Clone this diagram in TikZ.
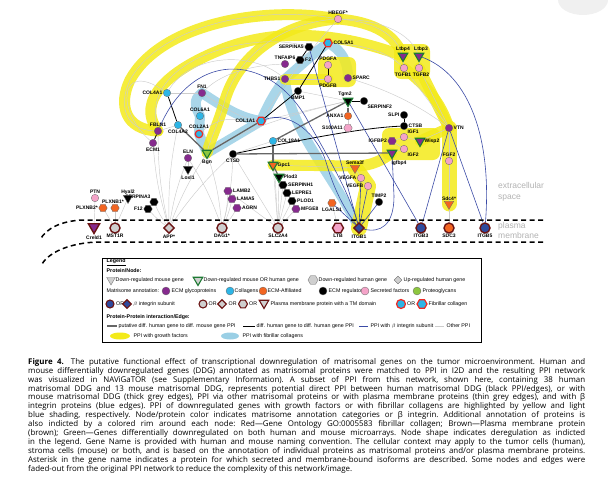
\documentclass[tikz,border=0pt]{standalone}
\usepackage{fontspec}
\setmainfont{Liberation Sans}
\newfontfamily\capfont{Open Sans}
\usetikzlibrary{shapes.geometric}

\definecolor{glycol}{HTML}{862A8E}
\definecolor{collag}{HTML}{2DB5E6}
\definecolor{affil}{HTML}{F26522}
\definecolor{secret}{HTML}{F4A3C8}
\definecolor{protgl}{HTML}{8DC63F}
\definecolor{integ}{HTML}{2E4A9E}
\definecolor{membg}{HTML}{CFCFCF}
\definecolor{rimgreen}{HTML}{1E7A34}
\definecolor{rimbrown}{HTML}{6A1414}
\definecolor{rimred}{HTML}{EE2A24}
\definecolor{edgeblue}{HTML}{3B4BA6}
\definecolor{gfyellow}{HTML}{F3EA1A}
\definecolor{fcblue}{HTML}{9ACFE5}

\pgfdeclarelayer{bands}
\pgfdeclarelayer{edges}
\pgfsetlayers{bands,edges,main}

\begin{document}
\begin{tikzpicture}[x=1pt, y=-1pt,
        lbl/.style={inner sep=0.6pt, font=\fontsize{5}{5.5}\selectfont\bfseries},
        circ/.style={circle, draw=black!60, line width=0.3pt, minimum size=7.5pt, inner sep=0pt},
        hexa/.style={regular polygon, regular polygon sides=6, draw=black!60, line width=0.3pt, minimum size=8.5pt, inner sep=0pt},
        tri/.style={regular polygon, regular polygon sides=3, shape border rotate=180, draw=black!60, line width=0.3pt, minimum size=11pt, inner sep=0pt},
        dia/.style={diamond, draw=black!60, line width=0.3pt, minimum size=9pt, inner sep=0pt},
        glyc/.style={fill=glycol},
        coll/.style={fill=collag},
        affl/.style={fill=affil},
        regl/.style={fill=black},
        secr/.style={fill=secret},
        prot/.style={fill=protgl},
        grrim/.style={draw=rimgreen, line width=1.1pt},
        rdrim/.style={draw=rimred, line width=1.2pt},
        mem/.style={draw=rimbrown, line width=1.4pt, minimum size=10pt},
        lgmem/.style={draw=rimbrown, line width=1.1pt, minimum size=8pt},
        oppi/.style={draw=black!20, line width=0.45pt},
        mppi/.style={draw=black!60, line width=1.3pt},
        hppi/.style={draw=black, line width=0.8pt},
        bppi/.style={draw=edgeblue, line width=0.6pt},
        gfband/.style={draw=gfyellow, line width=11pt, line cap=round, line join=round, opacity=0.85},
        fcband/.style={draw=fcblue, line width=10pt, line cap=round, line join=round, opacity=0.85},
        memline/.style={line width=1.5pt, dash pattern=on 5pt off 3.5pt},
        lgtxt/.style={anchor=west, inner sep=0.5pt, font=\fontsize{5.3}{6}\selectfont},
        lghead/.style={anchor=west, inner sep=0.5pt, font=\fontsize{5.3}{6}\selectfont\bfseries}
    ]
    \useasboundingbox (0,0) rectangle (610,479);
    \fill[black!6] (583,0) ellipse (25 and 15);

    % Membrane
    \draw[memline] (543,220) -- (82,220) .. controls (62,221) and (46,228) .. (40,240);
    \draw[memline] (543,242) -- (97,242) .. controls (72,243) and (50,251) .. (42,264);
    \node[anchor=west, text=black!30, align=left, inner sep=0pt, font=\fontsize{8.5}{11.5}\selectfont] (ecspace) at (498,192) {extracellular\\space};
    \node[anchor=west, text=black!30, align=left, inner sep=0pt, font=\fontsize{8.5}{10}\selectfont] (pmspace) at (498,230) {plasma\\membrane};

    % Upper network
    \node[circ, secr, label={[lbl]above:HBEGF*}] (hbegf) at (338,19) {};
    \node[hexa, regl, label={[lbl]left:SERPINA5}] (serpina5) at (309,47) {};
    \node[circ, glyc, label={[lbl]above:TNFAIP6}] (tnfaip6) at (285,64) {};
    \node[hexa, regl, label={[lbl]right:F2}] (f2) at (300,60) {};
    \node[circ, glyc, label={[lbl]left:THBS1}] (thbs1) at (285,79) {};
    \node[circ, regl, label={[lbl]below:BMP1}] (bmp1) at (298,91) {};
    \node[hexa, coll, rdrim, label={[lbl]right:COL5A1}] (col5a1) at (328,43) {};
    \node[circ, secr, label={[lbl]above:PDGFA}] (pdgfa) at (328,65) {};
    \node[circ, secr, label={[lbl]below:PDGFB}] (pdgfb) at (328,79) {};
    \node[circ, glyc, label={[lbl]right:SPARC}] (sparc) at (348,78) {};
    \node[tri, regl, grrim, label={[lbl,xshift=-3pt]above:Tgm2}] (tgm2) at (348,101) {};
    \node[circ, regl, label={[lbl]below right:SERPINF2}] (serpinf2) at (364,101) {};
    \node[circ, affl, label={[lbl]left:ANXA1}] (anxa1) at (348,116) {};
    \node[hexa, secr, label={[lbl]left:S100A11}] (s100a11) at (348,128) {};
    \node[circ, regl, label={[lbl]left:SLPI}] (slpi) at (404,115) {};
    \node[circ, regl, label={[lbl]right:CTSB}] (ctsb) at (404,126) {};
    \node[circ, secr, label={[lbl]above right:IGF1}] (igf1) at (404,137) {};
    \node[hexa, glyc, label={[lbl]left:IGFBP2}] (igfbp2) at (392,141) {};
    \node[tri, glyc, grrim, label={[lbl]right:Wisp2}] (wisp2) at (420,141) {};
    \node[circ, secr, label={[lbl]below right:IGF2}] (igf2) at (404,149) {};
    \node[tri, glyc, grrim, label={[lbl,xshift=7pt]below:Igfbp4}] (igfbp4) at (392,153) {};
    \node[tri, glyc, grrim, label={[lbl]above:Ltbp4}] (ltbp4) at (403,56) {};
    \node[tri, glyc, grrim, label={[lbl,xshift=2pt]above:Ltbp3}] (ltbp3) at (419,56) {};
    \node[circ, secr, label={[lbl,xshift=-1pt]below:TGFB1}] (tgfb1) at (404,68) {};
    \node[circ, secr, label={[lbl,xshift=2pt]below:TGFB2}] (tgfb2) at (419,68) {};
    \node[circ, glyc, label={[lbl]right:VTN}] (vtn) at (449,128) {};
    \node[circ, secr, label={[lbl]above:FGF2}] (fgf2) at (449,161) {};
    \node[tri, affl, label={[lbl]above:Sdc4*}] (sdc4) at (449,204) {};

    % Left network
    \node[circ, coll, label={[lbl]left:COL4A1}] (col4a1) at (167,93) {};
    \node[circ, glyc, label={[lbl]above:FN1}] (fn1) at (202,93) {};
    \node[circ, coll, label={[lbl]above:COL6A1}] (col6a1) at (200,116) {};
    \node[circ, coll, rdrim, label={[lbl]above:COL2A1}] (col2a1) at (199,134) {};
    \node[circ, glyc, label={[lbl]above:FBLN1}] (fbln1) at (158,131) {};
    \node[circ, glyc, label={[lbl]below:ECM1}] (ecm1) at (153,143) {};
    \node[circ, coll, label={[lbl]below:COL4A2}] (col4a2) at (178,125) {};
    \node[hexa, coll, rdrim, label={[lbl]left:COL1A1}] (col1a1) at (261,121) {};
    \node[circ, glyc, label={[lbl]above:ELN}] (eln) at (188,158) {};
    \node[tri, regl, label={[lbl]below:Loxl1}] (loxl1) at (188,169) {};
    \node[tri, prot, grrim, label={[lbl]below:Bgn}] (bgn) at (207,153) {};
    \node[circ, regl, label={[lbl]below:CTSD}] (ctsd) at (233,154) {};
    \node[circ, coll, label={[lbl]right:COL18A1}] (col18a1) at (273,141) {};
    \node[tri, affl, grrim, label={[lbl]right:Gpc1}] (gpc1) at (273,165) {};
    \node[tri, regl, grrim, label={[lbl]right:Plod3}] (plod3) at (279,177) {};
    \node[hexa, regl, label={[lbl]right:SERPINH1}] (serpinh1) at (283,185) {};
    \node[hexa, regl, label={[lbl]right:LEPRE1}] (lepre1) at (287,193) {};
    \node[hexa, regl, label={[lbl]right:PLOD1}] (plod1) at (292,201) {};
    \node[hexa, glyc, label={[lbl]right:MFGE8}] (mfge8) at (296,209) {};
    \node[hexa, glyc, label={[lbl]right:LAMB2}] (lamb2) at (228,191) {};
    \node[hexa, glyc, label={[lbl]right:LAMA5}] (lama5) at (232,199) {};
    \node[hexa, glyc, label={[lbl]right:AGRN}] (agrn) at (237,208) {};
    \node[hexa, regl, label={[lbl]above left:SERPINA3}] (serpina3) at (154,202) {};
    \node[hexa, regl, label={[lbl]left:F12}] (f12) at (148,209) {};
    \node[circ, secr, label={[lbl]above:PTN}] (ptn) at (95,198) {};
    \node[hexa, affl, label={[lbl]left:PLXNB2*}] (plxnb2) at (103,208) {};
    \node[hexa, affl, label={[lbl,xshift=-2pt]above:PLXNB1*}] (plxnb1) at (115,208) {};
    \node[tri, regl, label={[lbl]above:Hyal2}] (hyal2) at (128,198) {};
    \node[tri, affl, label={[lbl]above:Sema3f}] (sema3f) at (355,168) {};
    \node[circ, secr, label={[lbl]left:VEGFA}] (vegfa) at (361,178) {};
    \node[circ, secr, label={[lbl]left:VEGFB}] (vegfb) at (368,186) {};
    \node[circ, regl, label={[lbl]above:TIMP2}] (timp2) at (379,202) {};
    \node[hexa, affl, label={[lbl]below:LGALS1}] (lgals1) at (332,203) {};

    % Plasma membrane proteins
    \node[tri, glyc, mem, minimum size=13pt, label={[lbl]below:Creld1}] (creld1) at (94,227) {};
    \node[circ, fill=membg, mem, label={[lbl]below:MST1R}] (mst1r) at (115,228) {};
    \node[dia, fill=membg, mem, minimum size=11pt, label={[lbl]below:APP*}] (app) at (169,228) {};
    \node[circ, fill=membg, mem, label={[lbl]below:DAG1*}] (dag1) at (222,228) {};
    \node[circ, fill=membg, mem, label={[lbl]below:SLC2A4}] (slc2a4) at (278,228) {};
    \node[hexa, secr, mem, minimum size=11pt, label={[lbl]below:LTB}] (ltb) at (338,228) {};
    \node[dia, fill=integ, mem, minimum size=11pt, label={[lbl]below:ITGB1}] (itgb1) at (359,228) {};
    \node[circ, fill=integ, mem, label={[lbl]below:ITGB3}] (itgb3) at (421,228) {};
    \node[circ, affl, mem, label={[lbl]below:SDC3}] (sdc3) at (449,228) {};
    \node[circ, fill=integ, mem, label={[lbl]below:ITGB5}] (itgb5) at (485,228) {};

    \begin{pgfonlayer}{bands}
        % Fibrillar collagen shading
        \draw[fcband] (col1a1.center) .. controls (270,100) and (278,88) .. (thbs1.center) .. controls (298,68) and (315,52) .. (col5a1.center) .. controls (342,50) and (348,62) .. (sparc.center);
        \draw[fcband] (thbs1.center) .. controls (290,130) and (330,170) .. (itgb1.center);
        \draw[fcband] (fn1.center) .. controls (225,108) and (240,118) .. (col1a1.center) -- (bgn.center);
        \draw[fcband] (fn1.center) .. controls (192,100) and (196,108) .. (col6a1.center) -- (col2a1.center) -- (bgn.center);
        % Growth factor shading
        \draw[gfband] (hbegf.center) .. controls (260,5) and (160,25) .. (130,80) .. controls (118,105) and (125,130) .. (fbln1.center);
        \draw[gfband] (ltbp4.center) .. controls (360,40) and (290,22) .. (220,50) .. controls (170,70) and (135,100) .. (fbln1.center);
        \draw[gfband] (hbegf.center) .. controls (290,22) and (240,50) .. (225,100) .. controls (218,125) and (210,140) .. (bgn.center);
        \draw[gfband] (hbegf.center) .. controls (375,22) and (395,35) .. (ltbp4.center);
        \fill[gfyellow, opacity=0.85, rounded corners=7pt] (394,44) rectangle (430,79);
        \draw[gfband] (tgfb1.center) .. controls (425,85) and (440,100) .. (vtn.center);
        \draw[gfband] (tgfb2.center) -- (vtn.center);
        \draw[gfband, line width=15pt] (vtn.center) -- (sdc4.center);
        \draw[gfband] (thbs1.center) -- (pdgfb.center);
        \fill[gfyellow, opacity=0.85, rounded corners=7pt] (318,57) rectangle (356,87);
        \draw[gfband, line width=11pt] (gpc1.center) -- (355,166) .. controls (372,166) and (382,160) .. (igfbp4.center);
        \fill[gfyellow, opacity=0.85, rounded corners=7pt] (382,128) rectangle (440,160);
        \draw[gfband] (wisp2.center) -- (vtn.center);
        \draw[gfband, line width=16pt] (sema3f.center) -- (vegfb.center) -- (itgb1.center);
    \end{pgfonlayer}

    \begin{pgfonlayer}{edges}
        % Other PPI
        \foreach \t in {ecm1,fbln1,eln,bgn,col4a2,ctsd,serpina3,f12}
            \draw[oppi] (app) to[bend left=6] (\t);
        \foreach \t in {lamb2,lama5,agrn,bgn,ctsd,eln}
            \draw[oppi] (dag1) to[bend right=6] (\t);
        \foreach \t in {gpc1,plod3,serpinh1,lepre1,plod1,mfge8,ctsd,col18a1,lamb2}
            \draw[oppi] (slc2a4) -- (\t);
        \foreach \t in {plxnb1,plxnb2,hyal2}
            \draw[oppi] (mst1r) -- (\t);
        \draw[oppi] (creld1) -- (ptn);
        \draw[oppi] (sdc3) -- (sdc4);
        \draw[oppi] (sdc4) -- (fgf2);
        \draw[oppi] (fgf2) -- (vtn);
        \draw[oppi] (ltb) -- (lgals1);
        \draw[oppi] (col4a1) -- (fn1);
        \draw[oppi] (fbln1) -- (col4a2);
        \draw[oppi] (eln) -- (loxl1);
        \draw[oppi] (ecm1) .. controls (115,110) and (120,60) .. (col4a1);
        \draw[oppi] (col4a1) .. controls (190,55) and (250,50) .. (thbs1);
        \draw[oppi] (fn1) .. controls (225,70) and (260,65) .. (tnfaip6);
        \draw[oppi] (fbln1) .. controls (140,60) and (250,30) .. (serpina5);
        \draw[oppi] (hbegf) .. controls (260,5) and (160,25) .. (130,80) .. controls (118,105) and (125,130) .. (fbln1);
        \draw[oppi] (hbegf) .. controls (290,22) and (240,50) .. (225,100) .. controls (218,125) and (210,140) .. (bgn);
        \draw[oppi] (hbegf) .. controls (375,22) and (395,35) .. (ltbp4);
        \draw[oppi] (hbegf) .. controls (385,20) and (410,35) .. (ltbp3);
        \draw[oppi] (col2a1) .. controls (225,112) and (240,122) .. (col1a1);
        \draw[oppi] (fn1) .. controls (225,108) and (240,118) .. (col1a1);
        \draw[oppi] (bgn) .. controls (240,130) and (300,112) .. (tgm2);
        \draw[oppi] (col1a1) -- (tgm2);
        \draw[oppi] (bmp1) -- (tgm2);
        \draw[oppi] (sparc) .. controls (395,92) and (425,110) .. (vtn);
        \draw[oppi] (col5a1) .. controls (370,45) and (390,55) .. (tgfb1);
        \draw[oppi] (tgfb1) -- (vtn);
        \draw[oppi] (tgfb2) -- (vtn);
        \draw[oppi] (ltbp4) -- (tgfb1);
        \draw[oppi] (ltbp3) -- (tgfb2);
        \draw[oppi] (igfbp2) -- (igf1);
        \draw[oppi] (igf1) -- (wisp2);
        \draw[oppi] (igfbp4) -- (igf2);
        \draw[oppi] (igfbp2) -- (igf2);
        \draw[oppi] (wisp2) -- (vtn);
        \draw[oppi] (gpc1) -- (sema3f);
        \draw[oppi] (sema3f) -- (vegfa);
        \draw[oppi] (vegfa) -- (vegfb);
        \draw[oppi] (thbs1) -- (pdgfb);
        \draw[oppi] (s100a11) -- (anxa1);
        \draw[oppi] (col1a1) .. controls (300,60) and (320,40) .. (hbegf);
        \draw[oppi] (col18a1) -- (ctsd);
        % Putative human to mouse PPI
        \draw[mppi] (col4a2) -- (bgn);
        \draw[mppi] (bgn) -- (col1a1);
        \draw[mppi] (col18a1) -- (tgm2);
        \draw[mppi] (col18a1) -- (gpc1);
        \draw[mppi] (ctsd) -- (igfbp4);
        \draw[mppi] (tgm2) -- (anxa1);
        \draw[mppi] (gpc1) -- (plod3);
        % Human to human PPI
        \draw[hppi] (serpina5) -- (f2);
        \draw[hppi] (bmp1) -- (col1a1);
        \draw[hppi] (bmp1) -- (col5a1);
        \draw[hppi] (pdgfa) -- (pdgfb);
        \draw[hppi] (tgm2) -- (serpinf2);
        \draw[hppi] (slpi) -- (ctsb);
        \draw[hppi] (col4a1) -- (col4a2);
        \draw[hppi] (fbln1) -- (ecm1);
        \draw[hppi] (ctsd) .. controls (300,140) and (360,128) .. (ctsb);
        % PPI with beta integrin
        \draw[bppi] (fbln1) .. controls (195,45) and (275,55) .. (310,125) .. controls (330,160) and (350,195) .. (itgb1);
        \draw[bppi] (col1a1) .. controls (290,110) and (318,135) .. (326,162) .. controls (334,190) and (345,210) .. (itgb1);
        \draw[bppi] (serpina5) -- (itgb1);
        \draw[bppi] (tgm2) -- (itgb3);
        \draw[bppi] (vtn) -- (itgb3);
        \draw[bppi] (vtn) -- (itgb5);
        \draw[bppi] (ltbp3) .. controls (470,75) and (492,140) .. (itgb5);
        \draw[bppi] (vegfa) -- (itgb1);
        \draw[bppi] (vegfb) -- (itgb1);
        \draw[bppi] (timp2) -- (itgb1);
        \draw[bppi] (lgals1) -- (itgb1);
        \draw[bppi] (itgb1) .. controls (380,233) and (394,226) .. (394,196) -- (igfbp4);
    \end{pgfonlayer}

    % Legend
    \draw[line width=0.7pt] (102,258) rectangle (481,342);
    \node[lghead] (lgtitle) at (106,262) {\underline{Legend}};
    \node[lghead] (lgnode) at (106,271) {Protein/Node:};
    \node[tri, fill=membg, minimum size=10pt] (lgmouse) at (111,280) {};
    \node[lgtxt] (lgmousetx) at (115,280) {Down-regulated mouse gene};
    \node[tri, fill=membg, grrim, minimum size=11pt] (lgboth) at (198,280) {};
    \node[lgtxt] (lgbothtx) at (203,280) {Down-regulated mouse OR human gene};
    \node[hexa, fill=membg, minimum size=10pt] (lghuman) at (313,280) {};
    \node[lgtxt] (lghumantx) at (318,280) {Down-regulated human gene};
    \node[dia, fill=membg, minimum size=8pt] (lgup) at (398,280) {};
    \node[lgtxt] (lguptx) at (403,280) {Up-regulated human gene};

    \node[lgtxt] (lgannot) at (106,291) {Matrisome annotation:};
    \node[circ, glyc, minimum size=8pt] (lgglyc) at (166,291) {};
    \node[lgtxt] (lgglyctx) at (171,291) {ECM glycoproteins};
    \node[circ, coll, minimum size=8pt] (lgcoll) at (230,291) {};
    \node[lgtxt] (lgcolltx) at (234,291) {Collagens};
    \node[circ, affl, minimum size=8pt] (lgaffl) at (263,291) {};
    \node[lgtxt] (lgaffltx) at (267,291) {ECM-Affiliated};
    \node[circ, regl, minimum size=8pt] (lgregl) at (323,291) {};
    \node[lgtxt] (lgregltx) at (328,291) {ECM regulators};
    \node[circ, secr, minimum size=8pt] (lgsecr) at (365,291) {};
    \node[lgtxt] (lgsecrtx) at (370,291) {Secreted factors};
    \node[circ, prot, minimum size=8pt] (lgprot) at (417,291) {};
    \node[lgtxt] (lgprottx) at (422,291) {Proteoglycans};

    \node[circ, fill=integ, lgmem] (lgintc) at (110,304) {};
    \node[lgtxt] (lgor1) at (115.5,304) {OR};
    \node[dia, fill=integ, lgmem, minimum size=9pt] (lgintd) at (127,304) {};
    \node[lgtxt] (lginttx) at (132.5,304) {$\beta$ integrin subunit};
    \node[circ, fill=membg, lgmem] (lgtmc) at (203,304) {};
    \node[lgtxt] (lgor2) at (208,304) {OR};
    \node[dia, fill=membg, lgmem, minimum size=9pt] (lgtmd) at (222,304) {};
    \node[lgtxt] (lgor3) at (228,304) {OR};
    \node[hexa, fill=membg, lgmem, minimum size=9pt] (lgtmh) at (243,304) {};
    \node[lgtxt] (lgor4) at (248.5,304) {OR};
    \node[tri, fill=membg, lgmem, minimum size=11pt] (lgtmt) at (264,303) {};
    \node[lgtxt] (lgtmtx) at (270,304) {Plasma membrane protein with a TM domain};
    \node[circ, coll, rdrim, minimum size=9pt] (lgfcc) at (401,304) {};
    \node[lgtxt] (lgor5) at (406.5,304) {OR};
    \node[hexa, coll, rdrim, minimum size=10pt] (lgfch) at (422,304) {};
    \node[lgtxt] (lgfctx) at (428,304) {Fibrillar collagen};

    \node[lghead] (lgedge) at (106,317) {Protein-Protein interaction/Edge:};
    \draw[mppi] (107,326) -- (117,326);
    \node[lgtxt] (lgmppi) at (118,326) {putative diff. human gene to diff. mouse gene PPI};
    \draw[hppi] (243,326) -- (255,326);
    \node[lgtxt] (lghppi) at (256,326) {diff. human gene to diff. human gene PPI};
    \draw[bppi, line width=0.9pt] (359,326) -- (368,326);
    \node[lgtxt] (lgbppi) at (370,326) {PPI with $\beta$ integrin subunit};
    \draw[oppi] (435,326) -- (444,326);
    \node[lgtxt] (lgoppi) at (446,326) {Other PPI};
    \fill[gfyellow] (120,336) ellipse (10 and 3.5);
    \node[lgtxt] (lggf) at (133,336) {PPI with growth factors};
    \fill[fcblue] (230,336) ellipse (9 and 3.5);
    \node[lgtxt] (lgfc) at (242,336) {PPI with fibrillar collagens};

    % Caption
    \node[anchor=north west, text width=557pt, align=justify, inner sep=0pt,
          font=\capfont\fontsize{7.9}{7.5}\selectfont\frenchspacing] (caption) at (28,358) {%
        \textbf{Figure 4.}\hspace{0.9em}The putative functional effect of transcriptional downregulation of matrisomal genes on the tumor microenvironment. Human and\linebreak
        mouse differentially downregulated genes (DDG) annotated as matrisomal proteins were matched to PPI in I2D and the resulting PPI network\linebreak
        was visualized in NAViGaTOR (see Supplementary Information). A subset of PPI from this network, shown here, containing 38 human\linebreak
        matrisomal DDG and 13 mouse matrisomal DDG, represents potential direct PPI between human matrisomal DDG (black PPI/edges), or with\linebreak
        mouse matrisomal DDG (thick grey edges), PPI via other matrisomal proteins or with plasma membrane proteins (thin grey edges), and with β\linebreak
        integrin proteins (blue edges). PPI of downregulated genes with growth factors or with fibrillar collagens are highlighted by yellow and light\linebreak
        blue shading, respectively. Node/protein color indicates matrisome annotation categories or β integrin. Additional annotation of proteins is\linebreak
        also indicted by a colored rim around each node: Red—Gene Ontology GO:0005583 fibrillar collagen; Brown—Plasma membrane protein\linebreak
        (brown); Green—Genes differentially downregulated on both human and mouse microarrays. Node shape indicates deregulation as indicted\linebreak
        in the legend. Gene Name is provided with human and mouse naming convention. The cellular context may apply to the tumor cells (human),\linebreak
        stroma cells (mouse) or both, and is based on the annotation of individual proteins as matrisomal proteins and/or plasma membrane proteins.\linebreak
        Asterisk in the gene name indicates a protein for which secreted and membrane-bound isoforms are described. Some nodes and edges were\linebreak
        faded-out from the original PPI network to reduce the complexity of this network/image.};
\end{tikzpicture}
\end{document}
